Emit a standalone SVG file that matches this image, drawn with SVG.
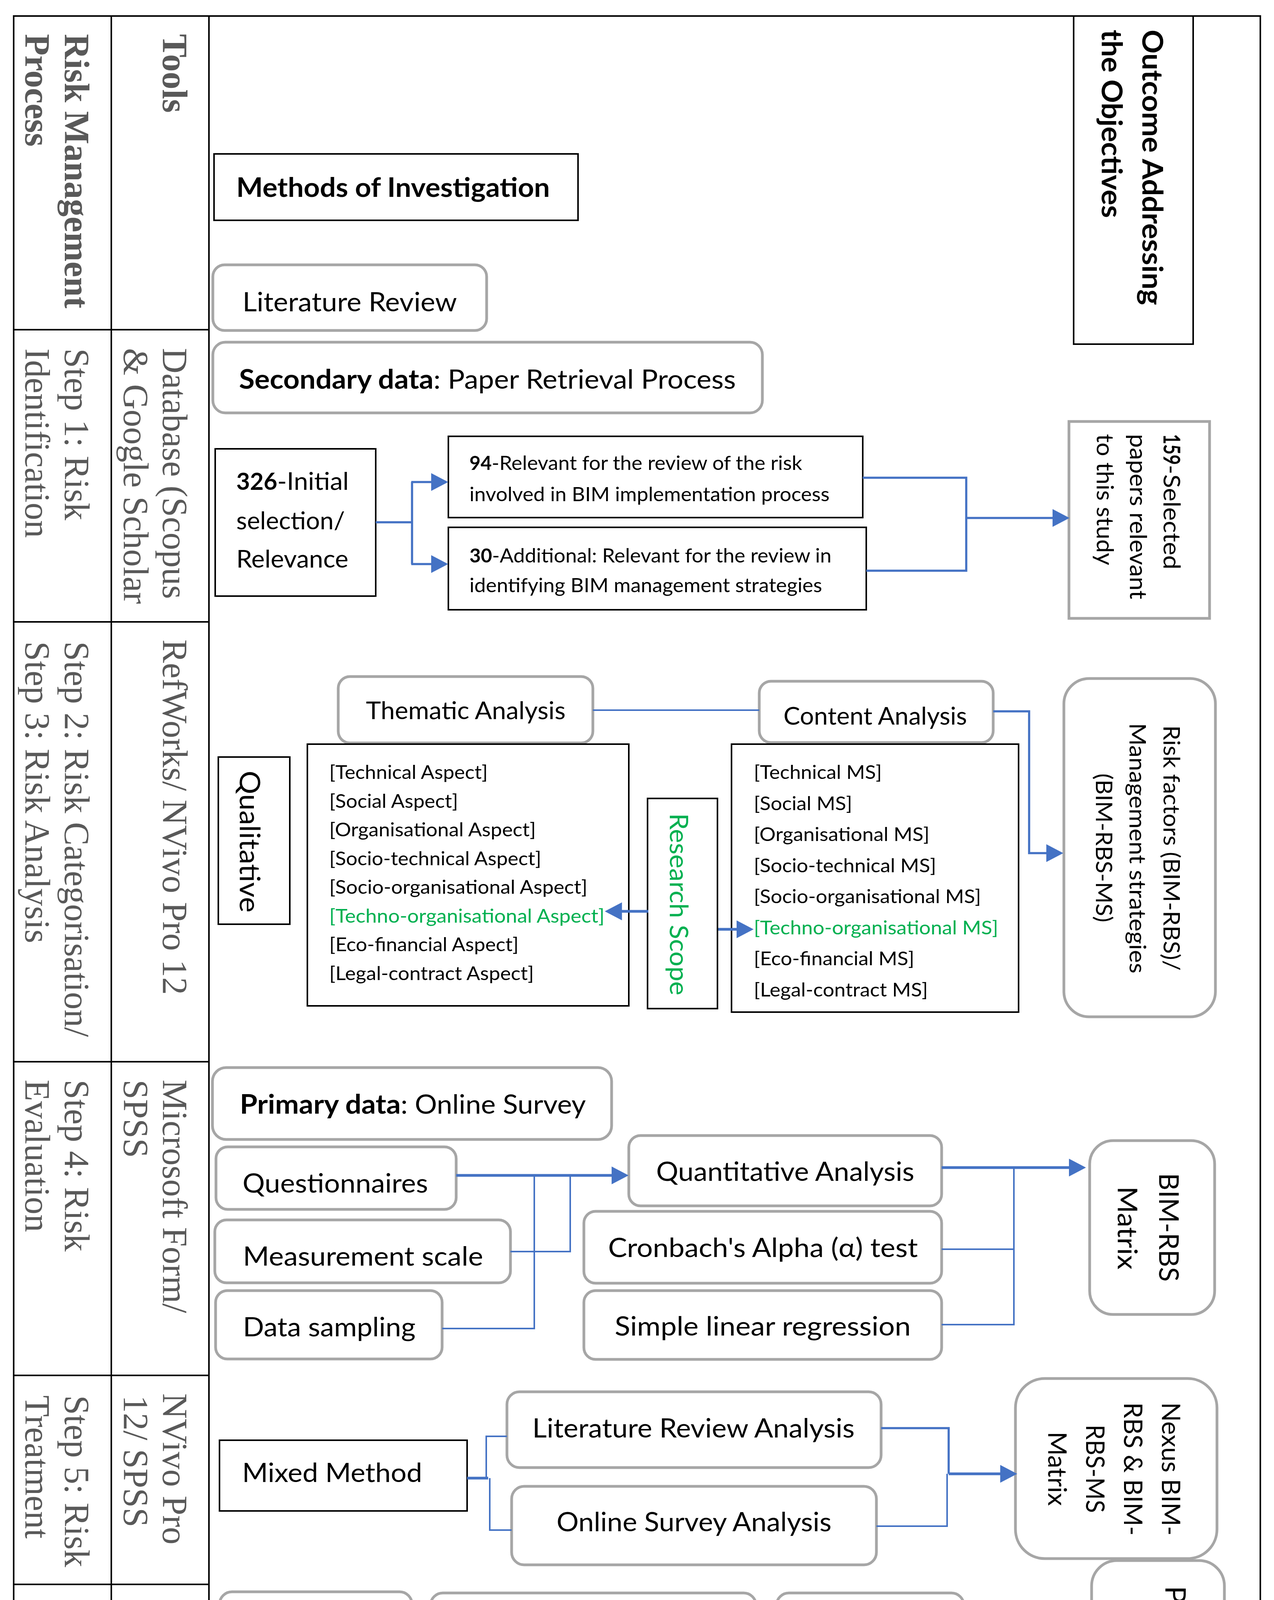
<svg xmlns="http://www.w3.org/2000/svg" width="3262" height="4626" viewBox="0 0 3262 4626">
<style>
.tb{fill:none;stroke:#000;stroke-width:4}
.bx{fill:#fff;stroke:#000;stroke-width:4}
.gr{fill:#fff;stroke:#a6a6a6;stroke-width:7}
.t{font-family:Lato,'Open Sans','Liberation Sans',sans-serif;fill:#000}
.b{font-weight:bold}
.s68{font-size:68px}.s62{font-size:62px}.s61{font-size:61px}.s50{font-size:50px}.s48{font-size:48px}
.tnr{font-family:'Liberation Serif','Times New Roman',serif;fill:#595959;font-size:90px}
.g{fill:#00b050}
.c{fill:none;stroke:#4472c4;stroke-linejoin:miter}
.k{stroke-width:7}.m{stroke-width:5.5}.n{stroke-width:4}
</style>
<defs>
<marker id="ah" markerUnits="userSpaceOnUse" markerWidth="46" markerHeight="48" refX="0.5" refY="23" orient="auto"><path d="M0,0 L44,23 L0,46 z" fill="#4472c4"/></marker>
</defs>
<rect width="3262" height="4626" fill="#fff"/>
<g id="table">
<rect class="tb" x="35" y="41" width="3192" height="4549"/>
<path class="tb" d="M285,41 V4590 M535,41 V4590 M35,844 H535 M35,1592 H535 M35,2718 H535 M35,3521 H535 M35,4056 H535"/>
<g class="tnr">
<text class="b" transform="translate(166,87) rotate(90)">Risk Management</text>
<text class="b" transform="translate(65,87) rotate(90)">Process</text>
<text class="b" transform="translate(417,87) rotate(90)">Tools</text>
<text transform="translate(166,892) rotate(90)">Step 1: Risk</text>
<text transform="translate(65,892) rotate(90)">Identification</text>
<text transform="translate(417,891) rotate(90)">Database (Scopus</text>
<text transform="translate(317,891) rotate(90)">&amp; Google Scholar</text>
<text transform="translate(166,1642) rotate(90)">Step 2: Risk Categorisation/</text>
<text transform="translate(65,1642) rotate(90)">Step 3: Risk Analysis</text>
<text transform="translate(417,1637) rotate(90)">RefWorks/ NVivo Pro 12</text>
<text transform="translate(166,2764) rotate(90)">Step 4: Risk</text>
<text transform="translate(65,2764) rotate(90)">Evaluation</text>
<text transform="translate(417,2764) rotate(90)">Microsoft Form/</text>
<text transform="translate(317,2764) rotate(90)">SPSS</text>
<text transform="translate(166,3572) rotate(90)">Step 5: Risk</text>
<text transform="translate(65,3572) rotate(90)">Treatment</text>
<text transform="translate(417,3567) rotate(90)">NVivo Pro</text>
<text transform="translate(317,3572) rotate(90)">12/ SPSS</text>
<text transform="translate(166,4102) rotate(90)">Step 6: Risk</text>
<text transform="translate(65,4102) rotate(90)">Review</text>
<text transform="translate(417,4102) rotate(90)">Final</text>
<text transform="translate(317,4102) rotate(90)">Assessment</text>
</g>
</g>
<g id="outcome">
<rect class="bx" x="2749" y="41" width="306" height="840"/>
<text class="t b" font-size="72" transform="translate(2925,76) rotate(90)" textLength="705" lengthAdjust="spacingAndGlyphs">Outcome Addressing</text>
<text class="t b" font-size="72" transform="translate(2821,76) rotate(90)" textLength="482" lengthAdjust="spacingAndGlyphs">the Objectives</text>
</g>
<g id="methods">
<rect class="bx" x="548" y="394" width="932" height="170"/>
<text class="t b s68" x="605" y="504" textLength="803" lengthAdjust="spacingAndGlyphs">Methods of Investigation</text>
</g>
<g id="literature-review">
<rect class="gr" x="545" y="678" width="701" height="168" rx="30"/>
<text class="t s68" x="621" y="797" textLength="549" lengthAdjust="spacingAndGlyphs">Literature Review</text>
</g>
<g id="secondary-data">
<rect class="gr" x="545" y="876" width="1407" height="181" rx="32"/>
<text class="t b s68" x="612" y="995" textLength="498" lengthAdjust="spacingAndGlyphs">Secondary data</text>
<text class="t s68" x="1110" y="995" textLength="774" lengthAdjust="spacingAndGlyphs">: Paper Retrieval Process</text>
</g>
<g id="initial-326">
<rect class="bx" x="551" y="1149" width="411" height="377"/>
<text class="t b s61" x="605" y="1254" textLength="105" lengthAdjust="spacingAndGlyphs">326</text>
<text class="t s61" x="710" y="1254" textLength="183" lengthAdjust="spacingAndGlyphs">-Initial</text>
<text class="t s61" x="605" y="1355" textLength="278" lengthAdjust="spacingAndGlyphs">selection/</text>
<text class="t s61" x="605" y="1453" textLength="287" lengthAdjust="spacingAndGlyphs">Relevance</text>
</g>
<g id="relevant-94">
<rect class="bx" x="1148" y="1117" width="1061" height="208"/>
<text class="t b s50" x="1202" y="1203" textLength="57" lengthAdjust="spacingAndGlyphs">94</text>
<text class="t s50" x="1259" y="1203" textLength="795" lengthAdjust="spacingAndGlyphs">-Relevant for the review of the risk</text>
<text class="t s50" x="1202" y="1283" textLength="922" lengthAdjust="spacingAndGlyphs">involved in BIM implementation process</text>
</g>
<g id="additional-30">
<rect class="bx" x="1148" y="1350" width="1070" height="211"/>
<text class="t b s50" x="1202" y="1440" textLength="58" lengthAdjust="spacingAndGlyphs">30</text>
<text class="t s50" x="1260" y="1440" textLength="869" lengthAdjust="spacingAndGlyphs">-Additional: Relevant for the review in</text>
<text class="t s50" x="1202" y="1516" textLength="903" lengthAdjust="spacingAndGlyphs">identifying BIM management strategies</text>
</g>
<g id="selected-159">
<rect x="2737" y="1079" width="360" height="504" fill="#fff" stroke="#a6a6a6" stroke-width="7"/>
<text class="t b" font-size="60" transform="translate(2979,1111) rotate(90)" textLength="79" lengthAdjust="spacingAndGlyphs">159</text>
<text class="t" font-size="60" transform="translate(2979,1190) rotate(90)" textLength="268" lengthAdjust="spacingAndGlyphs">-Selected</text>
<text class="t" font-size="60" transform="translate(2893,1111) rotate(90)" textLength="423" lengthAdjust="spacingAndGlyphs">papers relevant</text>
<text class="t" font-size="60" transform="translate(2808,1111) rotate(90)" textLength="336" lengthAdjust="spacingAndGlyphs">to this study</text>
</g>
<g id="thematic-analysis">
<rect class="gr" x="866" y="1732" width="652" height="170" rx="30"/>
<text class="t s62" x="937" y="1841" textLength="511" lengthAdjust="spacingAndGlyphs">Thematic Analysis</text>
</g>
<g id="content-analysis">
<rect class="gr" x="1944" y="1744" width="599" height="157" rx="30"/>
<text class="t s62" x="2006" y="1855" textLength="470" lengthAdjust="spacingAndGlyphs">Content Analysis</text>
</g>
<g id="qualitative">
<rect class="bx" x="559" y="1938" width="183" height="428"/>
<text class="t" font-size="71" transform="translate(614,1973) rotate(90)" textLength="363" lengthAdjust="spacingAndGlyphs">Qualitative</text>
</g>
<g id="aspects">
<rect class="bx" x="787" y="1905" width="823" height="670"/>
<g class="t s48">
<text x="843" y="1994" textLength="406" lengthAdjust="spacingAndGlyphs">[Technical Aspect]</text>
<text x="843" y="2067.5" textLength="330" lengthAdjust="spacingAndGlyphs">[Social Aspect]</text>
<text x="843" y="2141" textLength="529" lengthAdjust="spacingAndGlyphs">[Organisational Aspect]</text>
<text x="843" y="2214.5" textLength="543" lengthAdjust="spacingAndGlyphs">[Socio-technical Aspect]</text>
<text x="843" y="2288" textLength="661" lengthAdjust="spacingAndGlyphs">[Socio-organisational Aspect]</text>
<text class="g" x="843" y="2361.5" textLength="705" lengthAdjust="spacingAndGlyphs">[Techno-organisational Aspect]</text>
<text x="843" y="2435" textLength="485" lengthAdjust="spacingAndGlyphs">[Eco-financial Aspect]</text>
<text x="843" y="2508.5" textLength="524" lengthAdjust="spacingAndGlyphs">[Legal-contract Aspect]</text>
</g>
</g>
<g id="research-scope">
<rect class="bx" x="1658" y="2044" width="179" height="538"/>
<text class="t g" font-size="65" transform="translate(1715,2082) rotate(90)" textLength="466" lengthAdjust="spacingAndGlyphs">Research Scope</text>
</g>
<g id="management-strategies">
<rect class="bx" x="1873" y="1905" width="735" height="686"/>
<g class="t s48">
<text x="1930" y="1994" textLength="328" lengthAdjust="spacingAndGlyphs">[Technical MS]</text>
<text x="1930" y="2073.5" textLength="252" lengthAdjust="spacingAndGlyphs">[Social MS]</text>
<text x="1930" y="2153" textLength="450" lengthAdjust="spacingAndGlyphs">[Organisational MS]</text>
<text x="1930" y="2232.5" textLength="467" lengthAdjust="spacingAndGlyphs">[Socio-technical MS]</text>
<text x="1930" y="2312" textLength="582" lengthAdjust="spacingAndGlyphs">[Socio-organisational MS]</text>
<text class="g" x="1930" y="2391.5" textLength="626" lengthAdjust="spacingAndGlyphs">[Techno-organisational MS]</text>
<text x="1930" y="2471" textLength="411" lengthAdjust="spacingAndGlyphs">[Eco-financial MS]</text>
<text x="1930" y="2550.5" textLength="446" lengthAdjust="spacingAndGlyphs">[Legal-contract MS]</text>
</g>
</g>
<g id="risk-factors">
<rect class="gr" x="2724" y="1737" width="388" height="866" rx="65"/>
<text class="t" font-size="59" transform="translate(2979,1857) rotate(90)" textLength="628" lengthAdjust="spacingAndGlyphs">Risk factors (BIM-RBS)/</text>
<text class="t" font-size="59" transform="translate(2892,1851) rotate(90)" textLength="641" lengthAdjust="spacingAndGlyphs">Management strategies</text>
<text class="t" font-size="59" transform="translate(2806,1980) rotate(90)" textLength="381" lengthAdjust="spacingAndGlyphs">(BIM-RBS-MS)</text>
</g>
<g id="primary-data">
<rect class="gr" x="544" y="2733" width="1022" height="184" rx="35"/>
<text class="t b s68" x="614" y="2851" textLength="412" lengthAdjust="spacingAndGlyphs">Primary data</text>
<text class="t s68" x="1026" y="2851" textLength="474" lengthAdjust="spacingAndGlyphs">: Online Survey</text>
</g>
<g id="questionnaires">
<rect class="gr" x="553" y="2936" width="615" height="160" rx="30"/>
<text class="t s68" x="621" y="3053" textLength="475" lengthAdjust="spacingAndGlyphs">Questionnaires</text>
</g>
<g id="measurement-scale">
<rect class="gr" x="550" y="3123" width="757" height="161" rx="30"/>
<text class="t s68" x="622" y="3240" textLength="615" lengthAdjust="spacingAndGlyphs">Measurement scale</text>
</g>
<g id="data-sampling">
<rect class="gr" x="552" y="3304" width="580" height="175" rx="30"/>
<text class="t s68" x="622" y="3421" textLength="442" lengthAdjust="spacingAndGlyphs">Data sampling</text>
</g>
<g id="quantitative-analysis">
<rect class="gr" x="1610" y="2907" width="801" height="180" rx="30"/>
<text class="t s68" x="1680" y="3023" textLength="661" lengthAdjust="spacingAndGlyphs">Quantitative Analysis</text>
</g>
<g id="cronbach">
<rect class="gr" x="1495" y="3101" width="916" height="184" rx="30"/>
<text class="t s68" x="1557" y="3218" textLength="793" lengthAdjust="spacingAndGlyphs">Cronbach's Alpha (α) test</text>
</g>
<g id="regression">
<rect class="gr" x="1495" y="3304" width="916" height="176" rx="30"/>
<text class="t s68" x="1574" y="3419" textLength="758" lengthAdjust="spacingAndGlyphs">Simple linear regression</text>
</g>
<g id="bim-rbs-matrix">
<rect class="gr" x="2790" y="2920" width="320" height="445" rx="60"/>
<text class="t" font-size="70" transform="translate(2968,3003) rotate(90)" textLength="278" lengthAdjust="spacingAndGlyphs">BIM-RBS</text>
<text class="t" font-size="70" transform="translate(2862,3037) rotate(90)" textLength="213" lengthAdjust="spacingAndGlyphs">Matrix</text>
</g>
<g id="mixed-method">
<rect class="bx" x="562" y="3687" width="634" height="181"/>
<text class="t s68" x="620" y="3794" textLength="461" lengthAdjust="spacingAndGlyphs">Mixed Method</text>
</g>
<g id="lit-review-analysis">
<rect class="gr" x="1298" y="3563" width="958" height="194" rx="32"/>
<text class="t s68" x="1363" y="3680" textLength="825" lengthAdjust="spacingAndGlyphs">Literature Review Analysis</text>
</g>
<g id="online-survey-analysis">
<rect class="gr" x="1310" y="3805" width="934" height="201" rx="32"/>
<text class="t s68" x="1425" y="3920" textLength="704" lengthAdjust="spacingAndGlyphs">Online Survey Analysis</text>
</g>
<g id="nexus-matrix">
<rect class="gr" x="2600" y="3529" width="516" height="461" rx="75"/>
<text class="t" font-size="65" transform="translate(2975,3590) rotate(90)" textLength="341" lengthAdjust="spacingAndGlyphs">Nexus BIM-</text>
<text class="t" font-size="65" transform="translate(2878,3590) rotate(90)" textLength="341" lengthAdjust="spacingAndGlyphs">RBS &amp; BIM-</text>
<text class="t" font-size="65" transform="translate(2781,3647) rotate(90)" textLength="226" lengthAdjust="spacingAndGlyphs">RBS-MS</text>
<text class="t" font-size="65" transform="translate(2684,3665) rotate(90)" textLength="190" lengthAdjust="spacingAndGlyphs">Matrix</text>
</g>
<g id="discussions">
<rect class="gr" x="562" y="4075" width="493" height="175" rx="32"/>
<text class="t s68" x="632" y="4193" textLength="356" lengthAdjust="spacingAndGlyphs">Discussions</text>
</g>
<g id="research-implications">
<rect class="gr" x="1102" y="4078" width="834" height="172" rx="32"/>
<text class="t s68" x="1178" y="4195" textLength="682" lengthAdjust="spacingAndGlyphs">Research Implications</text>
</g>
<g id="limitations">
<rect class="gr" x="1988" y="4078" width="480" height="162" rx="32"/>
<text class="t s68" x="2059" y="4193" textLength="340" lengthAdjust="spacingAndGlyphs">Limitations</text>
</g>
<g id="conclusion">
<rect class="gr" x="579" y="4339" width="485" height="184" rx="32"/>
<text class="t s68" x="650" y="4455" textLength="343" lengthAdjust="spacingAndGlyphs">Conclusion</text>
</g>
<g id="recommendations">
<rect class="gr" x="1120" y="4332" width="740" height="172" rx="32"/>
<text class="t s68" x="1199" y="4448" textLength="583" lengthAdjust="spacingAndGlyphs">Recommendations</text>
</g>
<g id="present-final-outcome">
<rect class="gr" x="2795" y="3995" width="340" height="546" rx="65"/>
<text class="t" font-size="71" transform="translate(2984,4060) rotate(90)" textLength="422" lengthAdjust="spacingAndGlyphs">Present Final</text>
<text class="t" font-size="71" transform="translate(2878,4119) rotate(90)" textLength="300" lengthAdjust="spacingAndGlyphs">Outcome</text>
</g>
<g id="connectors">
<path class="c m" d="M962,1337 H1055 M1055,1234 V1444"/>
<path class="c m" d="M1053,1234 H1104" marker-end="url(#ah)"/>
<path class="c m" d="M1053,1444 H1104" marker-end="url(#ah)"/>
<path class="c m" d="M2209,1223 H2474 V1461 H2218"/>
<path class="c m" d="M2474,1326 H2695" marker-end="url(#ah)"/>
<path class="c n" d="M1518,1818 H1944"/>
<path class="c m" d="M2543,1821 H2635 V2184 H2679" marker-end="url(#ah)"/>
<path class="c k" d="M1660,2333 H1592" marker-end="url(#ah)"/>
<path class="c k" d="M1839,2379 H1886" marker-end="url(#ah)"/>
<path class="c k" d="M1168,3009 H1566" marker-end="url(#ah)"/>
<path class="c n" d="M1307,3204 H1460 V3009"/>
<path class="c n" d="M1132,3401 H1368 V3009"/>
<path class="c k" d="M2411,2989 H2737" marker-end="url(#ah)"/>
<path class="c n" d="M2411,3198 H2596 M2411,3391 H2596 V2989"/>
<path class="c k" d="M1196,3784 H1250"/>
<path class="c n" d="M1245,3784 V3677 H1298 M1254,3784 V3917 H1310"/>
<path class="c m" d="M2256,3656 H2429 V3773"/>
<path class="c k" d="M2429,3773 H2561" marker-end="url(#ah)"/>
<path class="c n" d="M2244,3907 H2425 V3773"/>
<path class="c n" d="M1055,4175 H1102 M1936,4162 L1988,4159 M1064,4434 H1120"/>
<path class="c k" d="M2468,4161 H2628 V4286 H2737" marker-end="url(#ah)"/>
<path class="c n" d="M1860,4414 H2320 V4286 H2628"/>
</g>
</svg>
